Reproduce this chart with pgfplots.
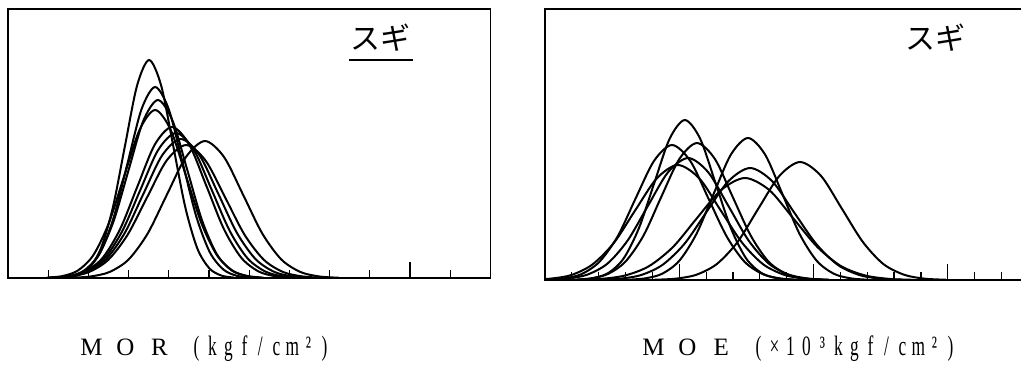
\documentclass[border=0pt]{standalone}
\usepackage{pgfplots}
\pgfplotsset{compat=1.18}
\usepackage{graphicx}
\usepackage{fontspec}
\setmainfont{Liberation Serif}
\newfontfamily\jp{Noto Sans CJK JP}

% fixed-pitch boxes for the axis captions: wide letters, then tall narrow ones
\newcommand{\wc}[1]{\makebox[17pt][c]{\fontsize{12.5}{13}\selectfont #1}}
\newcommand{\nc}[1]{\makebox[8pt][c]{\fontsize{14}{14}\selectfont\scalebox{0.62}[1]{#1}}}

\pgfplotsset{
  distplot/.style={
    scale only axis, anchor=south west,
    axis line style={black, line width=0.8pt},
    ytick=\empty, xtick pos=bottom, tick align=inside,
    xticklabels={}, extra x tick labels={},
    major tick length=4pt,
    tick style={black, line width=0.6pt},
    extra x tick style={major tick length=8pt},
    ymin=0,
  },
  curve/.style={black, line width=1pt, smooth, no marks},
}

\begin{document}
\begin{tikzpicture}

% MOR distributions (kgf/cm^2)
\begin{axis}[distplot, at={(4pt,46pt)}, width=241.2pt, height=134.5pt,
  xmin=0, xmax=1200, ymax=269,
  xtick={100,200,300,400,500,600,700,800,900,1100}, extra x ticks={1000}]
\addplot[curve] coordinates {(141,0.5)(171,2.4)(201,9.6)(231,29.5)(261,70.8)(291,132.2)(321,192.4)(351,218)(381,192.4)(411,132.2)(441,70.8)(471,29.5)(501,9.6)(531,2.4)(561,0.5)};
\addplot[curve] coordinates {(128,0.4)(162,2.1)(196,8.4)(230,25.8)(264,62.0)(298,115.8)(332,168.6)(366,191)(400,168.6)(434,115.8)(468,62.0)(502,25.8)(536,8.4)(570,2.1)(604,0.4)};
\addplot[curve] coordinates {(117.5,0.4)(154,2.0)(190.5,7.8)(227,24.1)(263.5,57.8)(300,108.0)(336.5,157.1)(373,178)(409.5,157.1)(446,108.0)(482.5,57.8)(519,24.1)(555.5,7.8)(592,2.0)(628.5,0.4)};
\addplot[curve] coordinates {(96.5,0.4)(135,1.9)(173.5,7.4)(212,22.7)(250.5,54.5)(289,101.9)(327.5,148.3)(366,168)(404.5,148.3)(443,101.9)(481.5,54.5)(520,22.7)(558.5,7.4)(597,1.9)(635.5,0.4)};
\addplot[curve] coordinates {(107,0.3)(150,1.7)(193,6.6)(236,20.4)(279,49.0)(322,91.6)(365,133.3)(408,151)(451,133.3)(494,91.6)(537,49.0)(580,20.4)(623,6.6)(666,1.7)(709,0.3)};
\addplot[curve] coordinates {(106.5,0.3)(151,1.6)(195.5,6.4)(240,19.6)(284.5,47.1)(329,87.9)(373.5,128.0)(418,145)(462.5,128.0)(507,87.9)(551.5,47.1)(596,19.6)(640.5,6.4)(685,1.6)(729.5,0.3)};
\addplot[curve] coordinates {(104.5,0.3)(151,1.5)(197.5,6.1)(244,18.8)(290.5,45.1)(337,84.3)(383.5,122.7)(430,139)(476.5,122.7)(523,84.3)(569.5,45.1)(616,18.8)(662.5,6.1)(709,1.5)(755.5,0.3)};
\addplot[curve] coordinates {(103.5,0.3)(152,1.5)(200.5,5.8)(249,18.0)(297.5,43.2)(346,80.7)(394.5,117.4)(443,133)(491.5,117.4)(540,80.7)(588.5,43.2)(637,18.0)(685.5,5.8)(734,1.5)(782.5,0.3)};
\addplot[curve] coordinates {(157.5,0.3)(205,1.5)(252.5,6.0)(300,18.5)(347.5,44.5)(395,83.1)(442.5,120.9)(490,137)(537.5,120.9)(585,83.1)(632.5,44.5)(680,18.5)(727.5,6.0)(775,1.5)(822.5,0.3)};
\end{axis}

% MOE distributions (x10^3 kgf/cm^2)
\begin{axis}[distplot, at={(272.5pt,45pt)}, width=241.65pt, height=135.5pt,
  xmin=0, xmax=180, ymax=271,
  xtick={10,20,30,40,60,70,80,90,110,120,130,140,160,170}, extra x ticks={50,100,150}]
\addplot[curve] coordinates {(12.2,0.4)(17.9,1.8)(23.6,7.0)(29.3,21.6)(35.0,52.0)(40.7,97.0)(46.4,141.2)(52.1,160)(57.8,141.2)(63.5,97.0)(69.2,52.0)(74.9,21.6)(80.6,7.0)(86.3,1.8)(92.0,0.4)};
\addplot[curve] coordinates {(10.1,0.3)(16.7,1.5)(23.4,6.0)(30.0,18.5)(36.7,44.5)(43.3,83.1)(50.0,120.9)(56.6,137)(63.3,120.9)(69.9,83.1)(76.6,44.5)(83.2,18.5)(89.9,6.0)(96.5,1.5)(103.2,0.3)};
\addplot[curve] coordinates {(0.1,0.3)(6.8,1.5)(13.6,5.9)(20.3,18.3)(27.1,43.8)(33.8,81.9)(40.6,119.1)(47.3,135)(54.1,119.1)(60.8,81.9)(67.6,43.8)(74.3,18.3)(81.1,5.9)(87.8,1.5)(94.6,0.3)};
\addplot[curve] coordinates {(0.8,0.3)(8.3,1.4)(15.8,5.4)(23.3,16.5)(30.8,39.6)(38.3,74.0)(45.8,107.7)(53.3,122)(60.8,107.7)(68.3,74.0)(75.8,39.6)(83.3,16.5)(90.8,5.4)(98.3,1.4)(105.8,0.3)};
\addplot[curve] coordinates {(-6.2,0.3)(1.8,1.3)(9.8,5.0)(17.7,15.6)(25.7,37.3)(33.6,69.7)(41.6,101.5)(49.5,115)(57.5,101.5)(65.4,69.7)(73.4,37.3)(81.3,15.6)(89.3,5.0)(97.2,1.3)(105.2,0.3)};
\addplot[curve] coordinates {(30.8,0.3)(37.2,1.6)(43.6,6.2)(50.0,19.2)(56.4,46.1)(62.8,86.1)(69.2,125.3)(75.6,142)(82.0,125.3)(88.4,86.1)(94.8,46.1)(101.2,19.2)(107.6,6.2)(114.0,1.6)(120.4,0.3)};
\addplot[curve] coordinates {(19.4,0.2)(27.5,1.2)(35.7,4.9)(43.8,15.2)(52.0,36.4)(60.1,67.9)(68.3,98.8)(76.4,112)(84.6,98.8)(92.7,67.9)(100.9,36.4)(109.0,15.2)(117.2,4.9)(125.3,1.2)(133.5,0.2)};
\addplot[curve] coordinates {(11.9,0.2)(20.8,1.1)(29.8,4.5)(38.7,13.8)(47.7,33.1)(56.6,61.9)(65.6,90.0)(74.5,102)(83.5,90.0)(92.4,61.9)(101.4,33.1)(110.3,13.8)(119.3,4.5)(128.2,1.1)(137.2,0.2)};
\addplot[curve] coordinates {(40.8,0.3)(48.5,1.3)(56.3,5.2)(64.0,16.0)(71.8,38.3)(79.5,71.6)(87.3,104.1)(95,118)(102.8,104.1)(110.5,71.6)(118.3,38.3)(126.0,16.0)(133.8,5.2)(141.5,1.3)(149.3,0.3)};
\end{axis}

% species name in each panel
\node[inner sep=0] at (190pt,166pt) {\jp\fontsize{15}{15}\selectfont スギ};
\draw[line width=0.6pt] (174.5pt,155pt) -- (206.5pt,155pt);
\node[inner sep=0] at (467.5pt,166pt) {\jp\fontsize{15}{15}\selectfont スギ};

% axis captions
\node[anchor=base west, inner sep=0] at (37pt,7.5pt)
  {\wc{M}\wc{O}\wc{R}\hspace{6pt}\nc{(}\nc{k}\nc{g}\nc{f}\nc{/}\nc{c}\nc{m}\nc{²}\nc{)}};
\node[anchor=base west, inner sep=0] at (318pt,7.5pt)
  {\wc{M}\wc{O}\wc{E}\hspace{6pt}\nc{(}\nc{×}\nc{1}\nc{0}\nc{³}\nc{k}\nc{g}\nc{f}\nc{/}\nc{c}\nc{m}\nc{²}\nc{)}};

% page area: the MOE frame runs past the right edge
\pgfresetboundingbox
\path[use as bounding box] (0,0) rectangle (510.5pt,185pt);
\end{tikzpicture}
\end{document}
